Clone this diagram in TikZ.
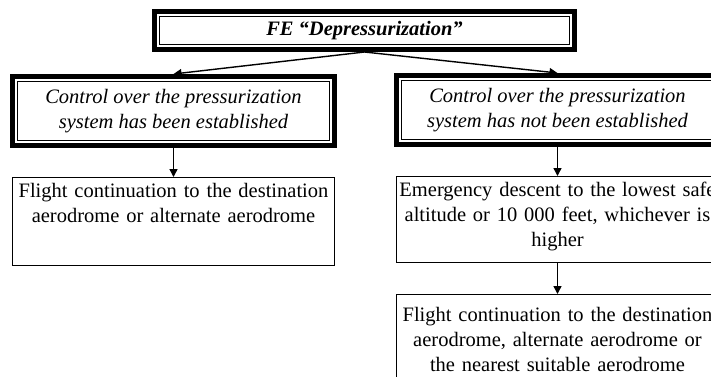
\documentclass[tikz,border=0pt]{standalone}
\usepackage{fontspec}
\setmainfont{Liberation Serif}
\usetikzlibrary{arrows.meta, positioning}

\begin{document}
\begin{tikzpicture}[x=1pt, y=-1pt, node distance=29pt,
        headbox/.style={draw, line width=1pt, outer sep=7.5pt, align=center,
            font=\fontsize{20.5}{25}\selectfont\itshape},
        stepbox/.style={draw, line width=1pt, text width=318pt, align=center,
            inner xsep=2pt, inner ysep=6pt, text height=14pt,
            font=\fontsize{20.5}{25}\selectfont},
        link/.style={line width=1.4pt, -{Triangle[length=8pt, width=8pt]}}]
        \useasboundingbox (0,0) rectangle (711,376);
        \clip (0,0) rectangle (711,376);
        \node[headbox, minimum width=410pt, minimum height=28pt, inner sep=0pt] (fe) at (364.5,30.5) {\bfseries FE “Depressurization”};
        \node[headbox, minimum width=312pt, minimum height=59pt] (ctrl) at (173.5,111) {Control over the pressurization\\ system has been established};
        \node[headbox, minimum width=312pt, minimum height=59pt] (noctrl) at (557.5,110) {Control over the pressurization\\ system has not been established};
        \node[stepbox, text depth=62pt, below=of ctrl] (cont1) {Flight continuation to the destination\\ aerodrome or alternate aerodrome};
        \node[stepbox, text depth=60pt, below=of noctrl] (descent) {Emergency descent to the lowest safe\\ altitude or 10 000 feet, whichever is\\ higher};
        \node[stepbox, text height=21pt, text depth=60pt, below=31pt of descent] (cont2) {Flight continuation to the destination\\ aerodrome, alternate aerodrome or\\ the nearest suitable aerodrome};
        \draw[link] (fe.south) -- (ctrl.north);
        \draw[link] (fe.south) -- (noctrl.north);
        \draw[link] (ctrl) -- (cont1);
        \draw[link] (noctrl) -- (descent);
        \draw[link] (descent) -- (cont2);
        % thick outer frame of the head boxes
        \foreach \n in {fe, ctrl, noctrl}
            \draw[line width=5.3pt] ([shift={(2.65pt,2.65pt)}]\n.south west) rectangle ([shift={(-2.65pt,-2.65pt)}]\n.north east);
    \end{tikzpicture}
\end{document}
